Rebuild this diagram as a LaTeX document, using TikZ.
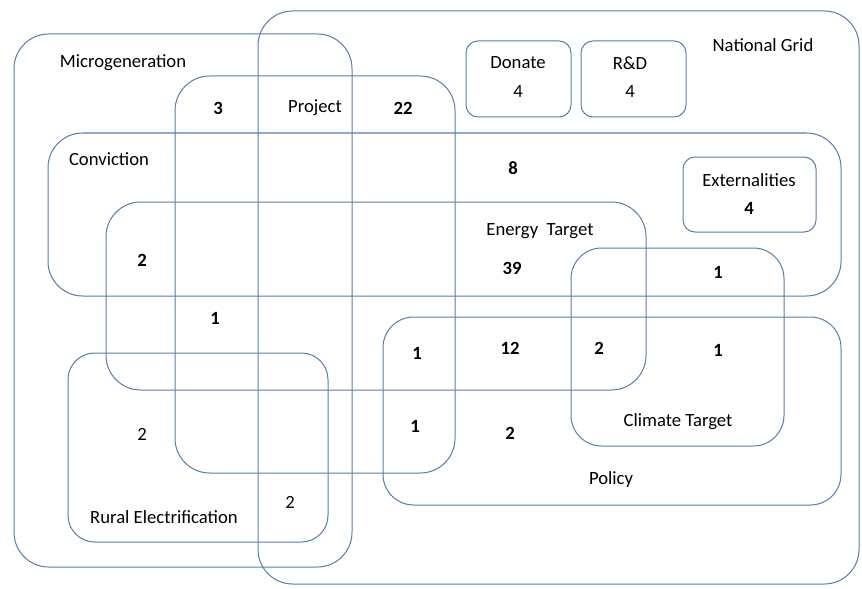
\documentclass[tikz,border=0pt]{standalone}
\usepackage{fontspec}
\setmainfont{Carlito}

\tikzset{every picture/.style={line width=0.75pt}}
\definecolor{setblue}{RGB}{88,124,168}
\tikzset{
  bigset/.style={draw=setblue, line width=0.75pt, rounded corners=26pt},
  smallset/.style={draw=setblue, line width=0.75pt, rounded corners=9pt},
  setlbl/.style={inner sep=0.75pt, font=\fontsize{14}{16}\selectfont},
  countlbl/.style={inner sep=0.75pt, font=\fontsize{14}{16}\selectfont\bfseries},
}

\begin{document}
\begin{tikzpicture}[x=0.75pt,y=0.75pt,yscale=-1,xscale=1]
%set diagram left start at 0, and has height of 588
\useasboundingbox (0,0) rectangle (862,588);

%Rounded Rect: National Grid
\draw [bigset] (258,11) rectangle (859,584) ;
%Rounded Rect: Microgeneration
\draw [bigset] (14,34) rectangle (352,567) ;
%Rounded Rect: Project
\draw [bigset] (175,76) rectangle (455,473) ;
%Rounded Rect: Conviction
\draw [bigset] (48,133) rectangle (841,296) ;
%Rounded Rect: Energy Target
\draw [bigset] (106,202) rectangle (646,390) ;
%Rounded Rect: Climate Target
\draw [bigset, rounded corners=23pt] (571,248) rectangle (784,446) ;
%Rounded Rect: Policy
\draw [bigset, rounded corners=23pt] (383,317) rectangle (841,505) ;
%Rounded Rect: Rural Electrification
\draw [bigset, rounded corners=20pt] (68,353) rectangle (328,542) ;
%Rounded Rect: Donate
\draw [smallset] (466,41) rectangle (571,117) ;
%Rounded Rect: R&D
\draw [smallset] (581,41) rectangle (686,117) ;
%Rounded Rect: Externalities
\draw [smallset] (683,157) rectangle (816,232) ;

% Text Node
\draw (123,63) node [setlbl] (microgen) {Microgeneration};
% Text Node
\draw (763,45) node [setlbl] (natgrid) {National Grid};
% Text Node
\draw (518,63) node [setlbl] (donate) {Donate};
% Text Node
\draw (518,92) node [setlbl] (donatenum) {4};
% Text Node
\draw (630,63) node [setlbl] (rnd) {R\&D};
% Text Node
\draw (630,92) node [setlbl] (rndnum) {4};
% Text Node
\draw (218,108) node [countlbl] (mgproj) {3};
% Text Node
\draw (315,108) node [setlbl] (project) {Project};
% Text Node
\draw (403,108) node [countlbl] (ngproj) {22};
% Text Node
\draw (109,159) node [setlbl] (conviction) {Conviction};
% Text Node
\draw (513,168) node [countlbl] (ngconv) {8};
% Text Node
\draw (749,180) node [setlbl] (extern) {Externalities};
% Text Node
\draw (749,208) node [countlbl] (externnum) {4};
% Text Node
\draw (540,231) node [setlbl] (energy) {Energy\ \ Target};
% Text Node
\draw (142,260) node [countlbl] (mgconvet) {2};
% Text Node
\draw (512,268) node [countlbl] (ngconvet) {39};
% Text Node
\draw (718,272) node [countlbl] (ngconvct) {1};
% Text Node
\draw (215,318) node [countlbl] (mgprojet) {1};
% Text Node
\draw (417,353) node [countlbl] (projetpol) {1};
% Text Node
\draw (510,348) node [countlbl] (etpol) {12};
% Text Node
\draw (599,348) node [countlbl] (etctpol) {2};
% Text Node
\draw (718,350) node [countlbl] (ctpol) {1};
% Text Node
\draw (142,434) node [setlbl] (mgrural) {2};
% Text Node
\draw (415,426) node [countlbl] (projpol) {1};
% Text Node
\draw (510,433) node [countlbl] (ngpol) {2};
% Text Node
\draw (678,422) node [setlbl] (climate) {Climate Target};
% Text Node
\draw (611,480) node [setlbl] (policy) {Policy};
% Text Node
\draw (290,502) node [setlbl] (ngrural) {2};
% Text Node
\draw (164,517) node [setlbl] (rural) {Rural Electrification};

\end{tikzpicture}
\end{document}
